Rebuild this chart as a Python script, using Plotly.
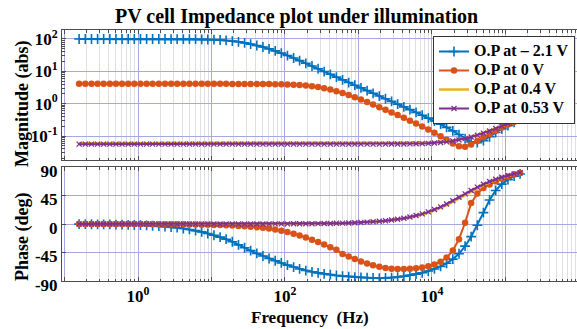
import plotly.graph_objects as go

# ---------------- data ----------------
freq_hz = [0.158, 0.192, 0.233, 0.282, 0.341, 0.414, 0.501, 0.607, 0.736, 0.891,
           1.08, 1.31, 1.58, 1.92, 2.33, 2.82, 3.41, 4.14, 5.01, 6.07, 7.36, 8.91,
           10.8, 13.1, 15.8, 19.2, 23.3, 28.2, 34.1, 41.4, 50.1, 60.7, 73.6, 89.1,
           108, 131, 158, 192, 233, 282, 341, 414, 501, 607, 736, 891,
           1080, 1310, 1580, 1920, 2330, 2820, 3410, 4140, 5010, 6070, 7360, 8910,
           10800, 13100, 15800, 19200, 23300, 28200, 34100, 41400, 50100, 60700, 73600, 89100,
           108000, 131000, 158000]

mag_m21 = [100, 100, 100, 100, 100, 100, 100, 100, 100, 100, 100, 100, 100, 100,
           99.8, 99.6, 99.5, 99.2, 98.9, 98.4, 97.6, 96.6, 95.1, 93.0, 90.2, 86.5,
           81.8, 76.1, 69.6, 62.8, 56.5, 49.5, 42.8, 36.5, 30.8, 25.8, 21.4, 17.7,
           14.6, 12.0, 9.85, 8.1, 6.61, 5.46, 4.50, 3.72, 3.07, 2.53, 2.09, 1.72,
           1.42, 1.175, 0.965, 0.794, 0.653, 0.537, 0.439, 0.358, 0.290, 0.233,
           0.185, 0.144, 0.111, 0.083, 0.066, 0.062, 0.072, 0.095, 0.128, 0.166,
           0.210, 0.265, 0.335]
mag_0 = [4.10, 4.10, 4.10, 4.10, 4.10, 4.10, 4.10, 4.10, 4.10, 4.10, 4.10, 4.10, 4.10,
         4.10, 4.10, 4.10, 4.10, 4.10, 4.10, 4.10, 4.10, 4.10, 4.10, 4.10, 4.10,
         4.09, 4.09, 4.09, 4.08, 4.07, 4.06, 4.05, 4.02, 3.99, 3.94, 3.87, 3.77,
         3.64, 3.47, 3.27, 3.02, 2.74, 2.44, 2.14, 1.85, 1.58, 1.335, 1.12, 0.935,
         0.778, 0.646, 0.536, 0.447, 0.366, 0.298, 0.243, 0.197, 0.158, 0.126,
         0.099, 0.0765, 0.059, 0.048, 0.0467, 0.0551, 0.0706, 0.0913, 0.116,
         0.146, 0.182, 0.225, 0.276, 0.336]
mag_04 = [0.060] * 48 + [0.0601, 0.0601, 0.0602, 0.0603, 0.0605, 0.0607, 0.0610,
                         0.0614, 0.0621, 0.0631, 0.0644, 0.0664, 0.0692, 0.0731,
                         0.0786, 0.0858, 0.0955, 0.1083, 0.1245, 0.1451, 0.1710,
                         0.2033, 0.2427, 0.2912, 0.3506]
mag_053 = [0.056] * 48 + [0.0561, 0.0562, 0.0562, 0.0563, 0.0565, 0.0567, 0.0571,
                          0.0575, 0.0582, 0.0593, 0.0607, 0.0628, 0.0658, 0.0699,
                          0.0756, 0.0831, 0.0930, 0.1061, 0.1227, 0.1436, 0.1697,
                          0.2022, 0.2418, 0.2905, 0.350]

ph_m21 = [-0.27, -0.33, -0.40, -0.49, -0.59, -0.72, -0.87, -1.05, -1.27, -1.54,
          -1.87, -2.26, -2.74, -3.32, -4.02, -4.86, -5.88, -7.12, -8.59, -10.4,
          -12.5, -15.0, -17.8, -20.8, -24.0, -28.0, -33.0, -37.5, -42.0, -46.5,
          -50.5, -54.5, -58.0, -61.5, -65.0, -68.0, -71.0, -73.5, -75.5, -77.2,
          -78.7, -80.0, -81.2, -82.2, -83.0, -83.8, -84.4, -84.9, -85.3, -85.5,
          -85.3, -84.8, -83.8, -82.5, -81.0, -79.2, -77.0, -74.3, -71.0, -67.0,
          -62.0, -55.5, -47.0, -35.0, -20.0, -2.0, 18.0, 38.0, 53.0, 63.0,
          70.0, 75.5, 79.0]
ph_0 = [-0.02, -0.03, -0.03, -0.04, -0.05, -0.06, -0.07, -0.09, -0.10, -0.12,
        -0.15, -0.18, -0.22, -0.26, -0.32, -0.39, -0.47, -0.57, -0.69, -0.83,
        -1.0, -1.2, -1.45, -1.75, -2.1, -2.5, -3.0, -3.6, -4.3, -5.1, -6.1,
        -7.2, -8.5, -10.5, -12.7, -15.2, -18.0, -21.2, -24.7, -28.5, -32.5,
        -36.7, -40.8, -47.5, -51.5, -55.2, -59.2, -62.5, -65.3, -67.6, -69.3,
        -70.5, -71.1, -71.2, -70.8, -69.9, -68.6, -66.8, -64.0, -59.5, -53.0,
        -42.0, -24.0, 2.0, 33.0, 48.0, 57.0, 62.5, 67.5, 71.5, 75.0, 78.0, 80.5]
ph_04 = [0.0] * 20 + [0.01, 0.01, 0.02, 0.02, 0.03, 0.04, 0.05, 0.06,
                      0.07, 0.08, 0.10, 0.13, 0.15, 0.19, 0.22, 0.27, 0.33, 0.40,
                      0.49, 0.59, 0.71, 0.86, 1.05, 1.26, 1.53, 1.86, 2.24, 2.72,
                      3.30, 3.99, 4.83, 5.84, 7.06, 8.54, 10.3, 12.4, 14.9, 17.9,
                      21.4, 25.4, 29.9, 34.8, 40.2, 45.6, 51.1, 56.3, 61.2, 65.6,
                      69.5, 72.8, 75.7, 78.1, 80.1]
ph_053 = [0.0] * 20 + [0.01, 0.01, 0.02, 0.02, 0.03, 0.04, 0.05, 0.06,
                       0.08, 0.09, 0.11, 0.14, 0.16, 0.20, 0.24, 0.29, 0.35, 0.43,
                       0.52, 0.63, 0.76, 0.92, 1.12, 1.35, 1.64, 1.99, 2.41, 2.92,
                       3.53, 4.27, 5.17, 6.26, 7.56, 9.15, 11.0, 13.3, 16.0, 19.1,
                       22.8, 27.0, 31.7, 36.7, 42.2, 47.6, 53.0, 58.2, 62.8, 67.0,
                       70.7, 73.9, 76.6, 78.9, 80.8]

names = ["O.P at \u2013 2.1 V", "O.P at 0 V", "O.P at 0.4 V", "O.P at 0.53 V"]
mags = [mag_m21, mag_0, mag_04, mag_053]
phases = [ph_m21, ph_0, ph_04, ph_053]
colors = ["#0072BD", "#D95319", "#EDB120", "#7E2F8E"]

x_decades = [0.1, 1, 10, 100, 1e3, 1e4, 1e5, 1e6]
x_dec_text = ["", "10<sup>0</sup>", "", "10<sup>2</sup>", "", "10<sup>4</sup>", "", ""]
mag_ticks = [0.1, 1, 10, 100]
mag_tick_text = ["10<sup>-1</sup>", "10<sup>0</sup>", "10<sup>1</sup>", "10<sup>2</sup>"]
ph_ticks = [-90, -45, 0, 45, 90]
ph_tick_text = ["-90", "-45", "0", "45", "90"]

# ---------------- figure ----------------
W, H = 577, 329
SERIF = "Liberation Serif"
fig = go.Figure()

def marker_for(i, c):
    if i == 0:
        return dict(symbol="cross-thin", size=7, line=dict(width=1.6, color=c), color=c)
    if i == 1:
        return dict(symbol="circle", size=6.5, color=c, line=dict(width=0))
    if i == 3:
        return dict(symbol="x-thin", size=5, line=dict(width=1.3, color=c), color=c)
    return None

for i in range(4):
    c = colors[i]
    mode = "lines" if i == 2 else "lines+markers"
    lw = 2.5 if i == 2 else 2
    kw = dict(mode=mode, line=dict(color=c, width=lw))
    m = marker_for(i, c)
    if m:
        kw["marker"] = m
    label = '<span style="font-size:16px">' + names[i] + '</span>'
    fig.add_trace(go.Scatter(x=freq_hz, y=mags[i], name=label, xaxis="x", yaxis="y",
                             legendrank=i + 1, **kw))
    fig.add_trace(go.Scatter(x=freq_hz, y=phases[i], name=label, xaxis="x2", yaxis="y2",
                             showlegend=False, **kw))

minor_x = [k * 10 ** d for d in range(-2, 6) for k in range(2, 10)]
minor_y = [k * 10 ** d for d in range(-2, 3) for k in range(2, 10)]

MAJ = "rgb(168,168,222)"
MIN = "rgb(222,222,228)"
AX = "#4d4d4d"
tickfont = dict(family=SERIF, size=17, color="black", weight="bold")

x_left = 62 / W
xcommon = dict(type="log", range=[-1.034, 5.973], domain=[x_left, 1.0],
               tickmode="array", tickvals=x_decades, showgrid=True, gridcolor=MAJ,
               gridwidth=1, ticks="inside", ticklen=4, tickcolor=AX, showline=True,
               linecolor=AX, linewidth=1, mirror="ticks", zeroline=False,
               automargin=False,
               minor=dict(tickvals=minor_x, ticks="inside", ticklen=2.5, tickcolor=AX,
                          showgrid=True, gridcolor=MIN, gridwidth=1))

def ydom(top_px, bot_px):
    return [(H - bot_px) / H, (H - top_px) / H]

fig.update_layout(
    width=W, height=H, margin=dict(l=0, r=0, t=0, b=0),
    paper_bgcolor="white", plot_bgcolor="white",
    xaxis=dict(anchor="y", showticklabels=False, **xcommon),
    xaxis2=dict(anchor="y2", ticktext=x_dec_text, tickfont=tickfont, **xcommon),
    yaxis=dict(type="log", range=[-1.742, 2.278], domain=ydom(30, 160), anchor="x",
               tickmode="array", tickvals=mag_ticks, ticktext=mag_tick_text,
               tickfont=tickfont, showgrid=True, gridcolor=MAJ, ticks="inside",
               ticklen=4, tickcolor=AX, showline=True, linecolor=AX, mirror=False,
               zeroline=False, automargin=False,
               minor=dict(tickvals=minor_y, ticks="inside", ticklen=2.5, tickcolor=AX,
                          showgrid=False)),
    yaxis2=dict(range=[-90, 90], domain=ydom(167, 281), anchor="x2",
                tickmode="array", tickvals=ph_ticks, ticktext=ph_tick_text,
                tickfont=tickfont, showgrid=True, gridcolor=MAJ, ticks="inside",
                ticklen=4, tickcolor=AX, showline=True, linecolor=AX, mirror=False,
                zeroline=False, automargin=False, ticklabelshift=4),
    legend=dict(x=575 / W, xanchor="right", y=(H - 36) / H, yanchor="top",
                bgcolor="white", bordercolor="#333333", borderwidth=1,
                font=dict(family=SERIF, size=11, color="black", weight="bold"),
                itemwidth=30, tracegroupgap=0),
    showlegend=True,
)

def ann(text, xpx, ypx, size, angle=0):
    fig.add_annotation(text=text, x=xpx / W, y=(H - ypx) / H, xref="paper", yref="paper",
                       showarrow=False, textangle=angle, xanchor="center", yanchor="middle",
                       font=dict(family=SERIF, size=size, color="black", weight="bold"))

ann("PV cell Impedance plot under illumination", 296, 17, 20)
ann("Magnitude (abs)", 22, 104, 18, -90)
ann("Phase (deg)", 22, 237, 18, -90)
ann("Frequency\u00a0 (Hz)", 310, 317, 17)

fig.write_html("out.html")
